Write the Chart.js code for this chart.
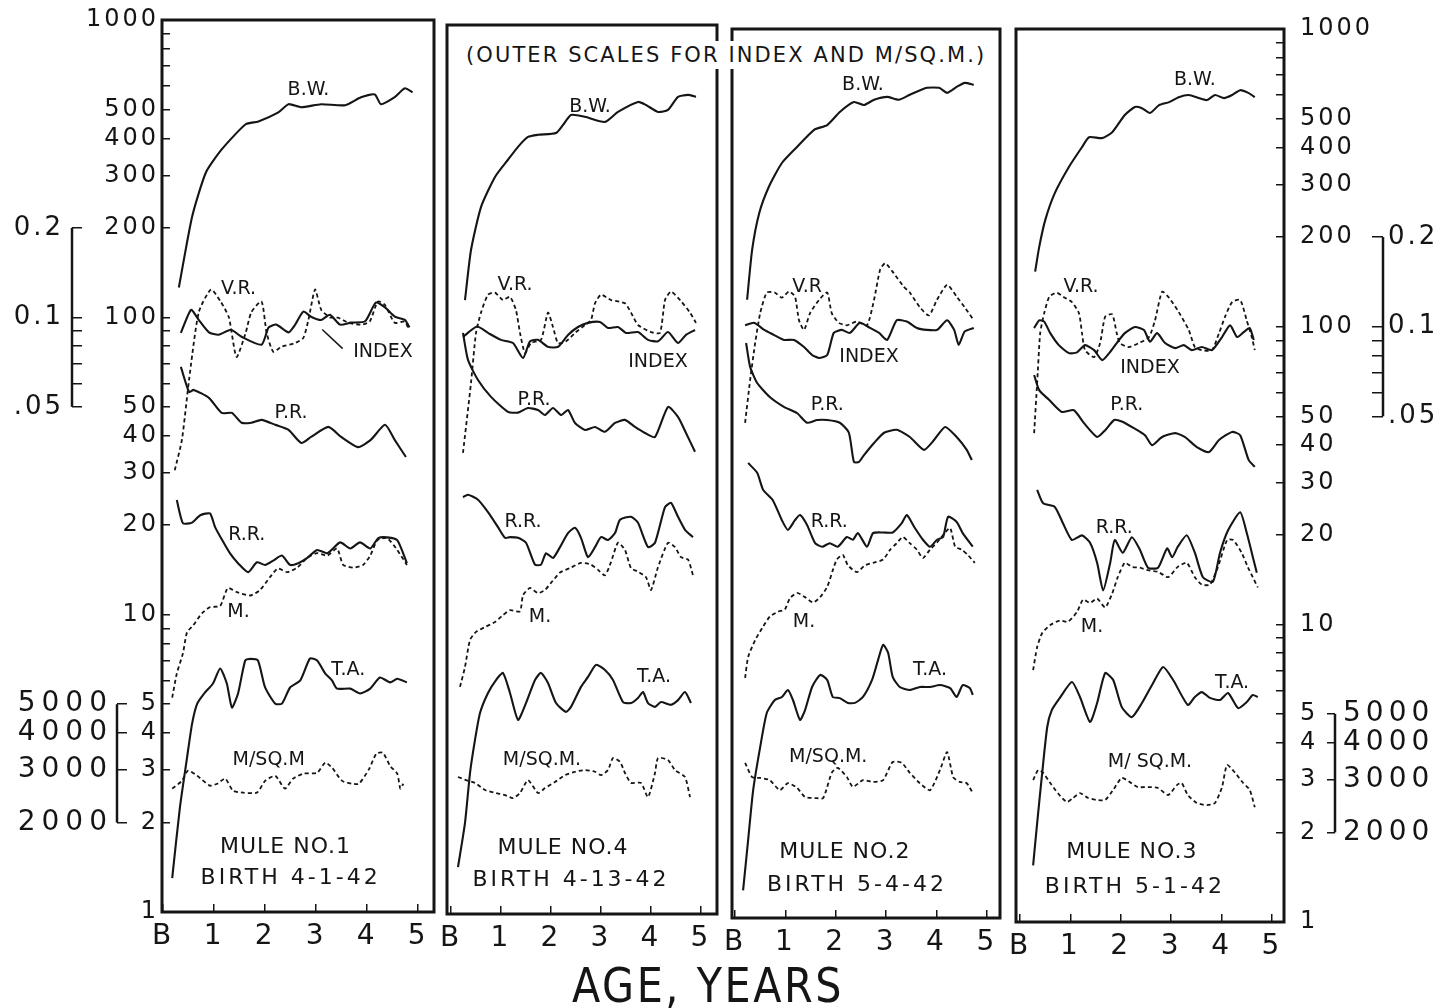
<!DOCTYPE html>
<html>
<head>
<meta charset="utf-8">
<script src="https://cdn.jsdelivr.net/npm/chart.js@4.4.1/dist/chart.umd.min.js"></script>
<style>
  body { margin: 0; background: #fff; width: 1441px; height: 1008px; overflow: hidden; position: relative; }
  canvas { position: absolute; top: 0; }
  #note { position: absolute; left: 463px; top: 41px; padding: 2px 3px; background: #fff; color: #151515;
          font: 21px "DejaVu Sans", sans-serif; letter-spacing: 2.1px; line-height: 24px; white-space: nowrap; }
  #xtitle { position: absolute; left: 572px; top: 957px; color: #151515; line-height: 48px;
            font: 48px "DejaVu Sans", sans-serif; letter-spacing: 3px; white-space: nowrap;
            transform: scaleX(0.86); transform-origin: left top; }
</style>
</head>
<body>
<canvas id="p1" width="362" height="1008" style="left:78px"></canvas>
<canvas id="p2" width="282" height="1008" style="left:440px"></canvas>
<canvas id="p3" width="284" height="1008" style="left:722px"></canvas>
<canvas id="p4" width="380" height="1008" style="left:1006px"></canvas>
<canvas id="idxL" width="84" height="1008" style="left:0px"></canvas>
<canvas id="msqL" width="130" height="1008" style="left:0px"></canvas>
<canvas id="msqR" width="121" height="1008" style="left:1320px"></canvas>
<canvas id="idxR" width="76" height="1008" style="left:1365px"></canvas>
<div id="note">(OUTER SCALES FOR INDEX AND M/SQ.M.)</div>
<div id="xtitle">AGE, YEARS</div>
<script>
// tick values and their printed labels
const MAIN_TICKS = [1000, 900, 800, 700, 600, 500, 400, 300, 200, 100, 90, 80, 70, 60, 50, 40, 30, 20, 10, 9, 8, 7, 6, 5, 4, 3, 2, 1];
const MAIN_TEXT  = ['1000', '', '', '', '', '500', '400', '300', '200', '100', '', '', '', '', '50', '40', '30', '20', '10', '', '', '', '', '5', '4', '3', '2', '1'];
const INDEX_TICKS = [0.2, 0.1, 0.09, 0.08, 0.07, 0.06, 0.05];
const INDEX_TEXT  = ['0.2', '0.1', '', '', '', '', '.05'];
const MSQ_TICKS = [5000, 4000, 3000, 2000];
const MSQ_TEXT  = ['5000', '4000', '3000', '2000'];
const AGE_TICKS = [0, 1, 2, 3, 4, 5];
const AGE_TEXT  = ['B', '1', '2', '3', '4', '5'];

// Mule No. 1  ([age in years, value])
const bw1 = [[0.31,126],[0.57,218],[0.84,307],[1.15,367],[1.62,446],[1.87,456],[2.26,489],[2.46,521],[2.71,509],[3.10,521],[3.57,517],[3.88,550],[4.15,562],[4.27,521],[4.54,550],[4.74,589],[4.89,571]];
const vr1 = [[0.23,30.6],[0.37,38.7],[0.51,61.6],[0.70,104],[0.94,124],[1.13,113],[1.29,100],[1.44,73.6],[1.62,88.7],[1.73,104],[1.93,113],[2.03,88.7],[2.16,76.6],[2.32,79.6],[2.59,82],[2.75,85.3],[2.85,98.2],[2.98,124],[3.10,106],[3.27,100],[3.43,99.7],[3.63,95.9],[3.88,94.5],[4.05,96.8],[4.21,113],[4.35,110],[4.54,95.9],[4.74,96.8],[4.80,92.5]];
const idx1 = [[0.35,0.0887],[0.55,0.106],[0.70,0.098],[0.90,0.089],[1.09,0.0874],[1.33,0.0908],[1.54,0.086],[1.93,0.0809],[2.07,0.0925],[2.22,0.0945],[2.46,0.089],[2.59,0.0945],[2.75,0.1045],[2.90,0.1005],[3.10,0.098],[3.27,0.102],[3.47,0.0945],[3.68,0.096],[3.96,0.097],[4.17,0.112],[4.35,0.108],[4.54,0.1005],[4.74,0.098],[4.83,0.0925]];
const pr1 = [[0.35,68.1],[0.51,56.1],[0.60,57],[0.90,53.6],[1.15,47.7],[1.35,47.7],[1.54,44.2],[1.73,44.2],[1.93,45.2],[2.20,43.5],[2.46,41.8],[2.71,37.8],[2.90,39.6],[3.24,42.8],[3.49,39.6],[3.82,36.6],[4.07,38.7],[4.35,43.5],[4.54,38.7],[4.76,33.9]];
const rr1 = [[0.27,24.3],[0.39,20.3],[0.57,20.4],[0.73,21.6],[0.92,21.9],[1.02,19.7],[1.16,17.8],[1.31,16.1],[1.47,14.9],[1.67,13.9],[1.84,15.0],[2.00,14.7],[2.16,15.2],[2.33,15.8],[2.49,14.7],[2.65,14.9],[2.82,15.5],[3.02,16.5],[3.22,16.1],[3.47,17.5],[3.67,16.7],[3.86,17.5],[4.06,16.7],[4.22,18.1],[4.39,18.2],[4.59,17.8],[4.78,14.9]];
const m1 = [[0.18,5.26],[0.27,6.34],[0.39,7.41],[0.47,8.72],[0.59,9.2],[0.76,10.1],[0.92,10.6],[1.12,10.7],[1.27,12.3],[1.45,11.9],[1.71,11.6],[1.90,12.1],[2.10,13.4],[2.25,14.3],[2.43,13.9],[2.63,14.4],[2.82,15.5],[3.02,16.1],[3.22,15.8],[3.41,16.7],[3.53,14.7],[3.73,14.4],[3.92,14.7],[4.06,15.8],[4.20,17.8],[4.39,18.1],[4.59,16.5],[4.78,14.7]];
const ta1 = [[0.18,1.30],[0.33,2.24],[0.47,3.30],[0.57,4.30],[0.67,5.02],[0.82,5.47],[0.98,5.87],[1.12,6.59],[1.25,5.87],[1.35,4.87],[1.47,5.43],[1.61,7.01],[1.71,7.1],[1.86,7.01],[2.00,5.69],[2.20,5.02],[2.33,5.02],[2.49,5.69],[2.69,6.01],[2.88,7.12],[3.02,7.01],[3.18,6.34],[3.31,6.01],[3.41,5.64],[3.67,5.64],[3.86,5.43],[4.06,5.64],[4.25,6.15],[4.45,5.92],[4.59,6.09],[4.78,5.92]];
const msq1 = [[0.18,2600],[0.37,2760],[0.49,2990],[0.67,2870],[0.92,2660],[1.06,2700],[1.22,2810],[1.37,2560],[1.57,2520],[1.84,2520],[2.00,2760],[2.20,2870],[2.39,2600],[2.55,2810],[2.75,2920],[3.02,2940],[3.18,3180],[3.31,3060],[3.51,2760],[3.71,2700],[3.84,2700],[4.04,3030],[4.18,3410],[4.31,3430],[4.45,3100],[4.59,2920],[4.65,2600],[4.71,2700]];

// Mule No. 4
const bw4 = [[0.28,118],[0.40,174],[0.60,243],[0.88,307],[1.14,351],[1.34,388],[1.54,419],[1.74,426],[2.10,432],[2.24,460],[2.40,497],[2.68,490],[3.08,471],[3.34,509],[3.74,550],[3.90,537],[4.14,509],[4.34,517],[4.54,572],[4.74,581],[4.90,572]];
const vr4 = [[0.24,36],[0.40,62],[0.50,91.4],[0.60,107],[0.74,123],[0.88,125],[1.04,118],[1.18,121],[1.30,109],[1.38,91.4],[1.48,78.2],[1.60,84.5],[1.80,86.6],[1.94,107],[2.04,95.7],[2.14,84.5],[2.30,85.6],[2.48,91.4],[2.68,97.2],[2.80,101],[2.88,115],[3.00,123],[3.20,118],[3.48,115],[3.60,107],[3.74,97.2],[4.00,92],[4.18,91.4],[4.28,118],[4.40,126],[4.60,117],[4.78,107],[4.90,98.8]];
const idx4 = [[0.24,0.0886],[0.52,0.096],[0.74,0.0914],[1.00,0.0866],[1.24,0.0845],[1.44,0.0752],[1.58,0.0856],[1.74,0.0866],[1.94,0.082],[2.14,0.082],[2.34,0.090],[2.54,0.0957],[2.74,0.0988],[2.98,0.0995],[3.14,0.095],[3.34,0.0957],[3.50,0.0914],[3.74,0.092],[3.94,0.0866],[4.14,0.0856],[4.34,0.092],[4.54,0.0845],[4.70,0.090],[4.88,0.0935]];
const pr4 = [[0.24,91.4],[0.34,74.1],[0.54,63.4],[0.80,55.6],[1.14,49.5],[1.34,49.2],[1.54,51],[1.74,50.2],[1.88,48.3],[2.04,51],[2.20,48.3],[2.34,50.2],[2.48,45.4],[2.68,43],[2.88,44],[3.08,42.4],[3.28,45.4],[3.48,46.5],[3.68,44],[3.88,42],[4.08,40.7],[4.34,51.4],[4.54,47.6],[4.70,42],[4.88,36.3]];
const rr4 = [[0.24,25.5],[0.34,26],[0.54,25],[0.74,22.7],[0.94,20.2],[1.08,18.6],[1.18,18.7],[1.34,18.6],[1.50,17.9],[1.68,15.1],[1.80,15.1],[1.90,16.5],[2.04,15.9],[2.18,17.3],[2.34,19.3],[2.48,20.1],[2.60,18.6],[2.74,16],[2.88,17.3],[3.00,18.7],[3.14,18.3],[3.28,19.3],[3.38,21.4],[3.60,21.9],[3.74,20.9],[3.94,17.3],[4.08,17.9],[4.28,23.6],[4.40,24.4],[4.54,21.9],[4.68,19.8],[4.84,18.7]];
const m4 = [[0.18,5.84],[0.28,6.82],[0.38,8.41],[0.50,8.95],[0.68,9.3],[0.88,9.67],[1.04,10.2],[1.18,10.6],[1.38,10.5],[1.44,11.9],[1.58,12.6],[1.74,12.1],[1.88,12.4],[2.00,13.1],[2.18,14.2],[2.38,14.7],[2.60,15.3],[2.80,15.1],[2.94,14.5],[3.08,13.9],[3.20,15.4],[3.34,17.9],[3.48,16.9],[3.60,14.7],[3.74,14.3],[3.90,13.7],[4.00,12.4],[4.14,14.8],[4.34,17.9],[4.48,17.3],[4.60,16],[4.74,15.7],[4.84,13.9]];
const ta4 = [[0.14,1.44],[0.28,2.03],[0.38,2.99],[0.48,3.87],[0.58,4.77],[0.74,5.57],[0.90,6.16],[1.04,6.51],[1.18,5.57],[1.34,4.52],[1.50,5.15],[1.68,6.16],[1.80,6.51],[1.94,6.02],[2.10,5.15],[2.30,4.81],[2.40,5.0],[2.60,5.84],[2.74,6.31],[2.90,6.93],[3.08,6.66],[3.24,6.16],[3.44,5.19],[3.60,5.15],[3.74,5.36],[3.84,5.61],[3.94,5.15],[4.08,5.0],[4.20,5.19],[4.40,5.08],[4.54,5.27],[4.68,5.61],[4.80,5.15]];
const msq4 = [[0.14,2900],[0.30,2830],[0.48,2770],[0.68,2620],[0.90,2560],[1.08,2520],[1.24,2460],[1.38,2560],[1.54,2830],[1.74,2560],[1.88,2660],[2.08,2790],[2.28,2940],[2.48,3020],[2.68,3060],[2.88,3020],[3.00,2940],[3.14,3060],[3.24,3360],[3.38,3260],[3.48,2990],[3.60,2770],[3.80,2770],[3.94,2480],[4.08,2990],[4.14,3360],[4.34,3310],[4.48,3060],[4.68,2900],[4.78,2480]];

// Mule No. 2
const bw2 = [[0.24,122],[0.34,180],[0.48,239],[0.67,293],[0.93,353],[1.23,400],[1.57,457],[1.83,474],[2.08,525],[2.36,567],[2.56,554],[2.76,577],[3.02,590],[3.25,577],[3.47,600],[3.81,633],[4.05,633],[4.21,609],[4.40,638],[4.56,658],[4.74,648]];
const vr2 = [[0.20,46.9],[0.30,65.4],[0.40,87.2],[0.50,110],[0.63,129],[0.79,129],[0.93,124],[1.07,130],[1.19,125],[1.27,104],[1.37,96.5],[1.49,110],[1.67,122],[1.83,129],[1.92,110],[2.06,102],[2.22,100],[2.42,103],[2.62,100],[2.76,122],[2.88,154],[2.98,162],[3.15,150],[3.35,135],[3.47,129],[3.67,115],[3.85,108],[4.01,122],[4.21,137],[4.40,125],[4.56,115],[4.74,104]];
const idx2 = [[0.20,0.100],[0.38,0.102],[0.58,0.0965],[0.77,0.0929],[0.97,0.0893],[1.17,0.0893],[1.37,0.0845],[1.53,0.0794],[1.67,0.0776],[1.83,0.0794],[1.96,0.0943],[2.12,0.0965],[2.28,0.0943],[2.48,0.102],[2.68,0.098],[2.86,0.0943],[3.02,0.0893],[3.21,0.104],[3.41,0.103],[3.61,0.098],[3.81,0.0965],[4.01,0.0965],[4.21,0.104],[4.35,0.0965],[4.44,0.0859],[4.56,0.0954],[4.74,0.098]];
const pr2 = [[0.22,87.2],[0.30,72.4],[0.44,63.9],[0.69,57.3],[0.97,53.1],[1.23,50.6],[1.43,46.9],[1.63,47.9],[1.83,47.9],[2.08,46.9],[2.26,43.4],[2.36,34.6],[2.46,34.6],[2.56,36.5],[2.76,40.1],[2.96,43.4],[3.21,44.4],[3.47,42],[3.75,38],[3.95,41],[4.17,45.4],[4.40,42],[4.60,38],[4.70,35.1]];
const rr2 = [[0.26,34.3],[0.44,31.8],[0.56,27.8],[0.75,25.7],[0.93,22],[1.05,20.4],[1.19,22],[1.29,22.9],[1.43,21.2],[1.59,18.4],[1.73,17.9],[1.88,18.4],[2.04,17.9],[2.22,19.3],[2.34,18.9],[2.44,19.9],[2.62,17.9],[2.74,19.9],[2.94,20],[3.13,20],[3.31,21.5],[3.41,22.9],[3.57,20.7],[3.73,18.9],[3.87,17.9],[4.01,18.9],[4.13,19.3],[4.23,22.6],[4.40,21.7],[4.52,19.9],[4.72,17.9]];
const m2 = [[0.20,6.46],[0.26,7.6],[0.40,8.67],[0.54,9.52],[0.69,10.4],[0.85,10.8],[0.99,11],[1.09,12],[1.23,12.5],[1.39,12.1],[1.55,11.6],[1.69,12.1],[1.83,13.1],[1.94,14.9],[2.02,16.2],[2.14,16.8],[2.24,15.5],[2.42,14.7],[2.58,15.5],[2.74,15.8],[2.94,16.2],[3.08,17.5],[3.21,18.4],[3.33,19.3],[3.47,18.4],[3.61,17.5],[3.73,16.4],[3.87,17.5],[4.01,18.5],[4.13,19.6],[4.27,20.7],[4.37,17.9],[4.50,17.5],[4.62,16.8],[4.76,15.8]];
const ta2 = [[0.16,1.24],[0.26,1.83],[0.36,2.70],[0.50,3.78],[0.63,4.92],[0.79,5.44],[0.93,5.57],[1.05,5.88],[1.15,5.44],[1.29,4.66],[1.39,5.03],[1.53,6.02],[1.69,6.61],[1.83,6.36],[1.94,5.57],[2.08,5.52],[2.24,5.32],[2.38,5.32],[2.54,5.57],[2.72,6.36],[2.84,7.43],[2.94,8.35],[3.04,7.84],[3.13,6.51],[3.27,6.02],[3.47,5.88],[3.67,6.02],[3.87,6.02],[4.07,6.11],[4.27,5.97],[4.40,5.57],[4.52,6.11],[4.66,5.97],[4.72,5.66]];
const msq2 = [[0.20,3340],[0.34,2990],[0.50,2970],[0.69,2920],[0.89,2700],[1.05,2850],[1.23,2750],[1.39,2560],[1.59,2540],[1.75,2540],[1.92,3090],[2.04,3210],[2.22,2990],[2.34,2770],[2.54,2920],[2.74,2880],[2.94,2920],[3.13,3360],[3.31,3340],[3.47,3090],[3.67,2850],[3.87,2700],[4.07,3160],[4.21,3630],[4.33,2990],[4.46,2880],[4.60,2850],[4.72,2640]];

// Mule No. 3
const bw3 = [[0.30,153],[0.38,185],[0.50,228],[0.69,281],[0.97,344],[1.23,401],[1.37,433],[1.63,430],[1.83,450],[2.08,514],[2.28,547],[2.42,542],[2.58,522],[2.76,555],[2.96,568],[3.15,590],[3.35,600],[3.55,586],[3.71,577],[3.87,600],[4.05,586],[4.21,600],[4.37,623],[4.54,609],[4.66,590]];
const vr3 = [[0.28,43.9],[0.34,64.7],[0.40,95.1],[0.48,111],[0.58,126],[0.73,130],[0.89,125],[1.03,121],[1.17,111],[1.23,95.1],[1.29,83.4],[1.47,79],[1.59,88.1],[1.69,108],[1.83,110],[1.92,95.1],[1.98,88.1],[2.16,85.4],[2.36,88.1],[2.56,92.3],[2.68,105],[2.82,131],[2.96,125],[3.15,112],[3.35,97.4],[3.47,85.4],[3.61,83.4],[3.81,83.4],[3.95,95.1],[4.07,108],[4.21,121],[4.37,123],[4.50,105],[4.60,92.3],[4.66,83.4]];
const idx3 = [[0.28,0.0989],[0.38,0.105],[0.48,0.104],[0.60,0.0951],[0.77,0.0867],[0.97,0.0815],[1.13,0.082],[1.29,0.0867],[1.47,0.0834],[1.63,0.0772],[1.77,0.0815],[1.92,0.0881],[2.08,0.0951],[2.28,0.0997],[2.46,0.0974],[2.58,0.089],[2.72,0.0951],[2.88,0.0881],[3.08,0.0847],[3.25,0.0867],[3.41,0.0834],[3.61,0.0854],[3.81,0.0834],[4.01,0.0923],[4.17,0.101],[4.31,0.0923],[4.44,0.0959],[4.56,0.0989],[4.64,0.0902]];
const pr3 = [[0.28,68.8],[0.38,61.2],[0.58,56.7],[0.83,51.7],[1.07,52.4],[1.27,47.4],[1.53,42.6],[1.69,44.9],[1.87,48.6],[2.02,48],[2.26,45.6],[2.48,43.2],[2.62,40],[2.82,42.6],[3.08,43.9],[3.27,42.6],[3.51,39.4],[3.75,37.9],[3.95,41.6],[4.21,44.3],[4.37,43.2],[4.54,35.6],[4.66,33.8]];
const rr3 = [[0.34,28.3],[0.46,25.5],[0.69,24.8],[0.85,21.9],[1.03,19.2],[1.23,19.9],[1.39,18.8],[1.53,16.1],[1.65,13.0],[1.79,16.1],[1.88,19.2],[2.04,17.4],[2.22,19.6],[2.38,17.8],[2.54,15.5],[2.74,15.5],[2.92,18.0],[3.02,16.8],[3.13,18.2],[3.31,19.9],[3.47,17.4],[3.63,14.4],[3.83,13.9],[3.97,17.4],[4.13,20.7],[4.37,23.8],[4.50,20.3],[4.60,17.4],[4.70,14.9]];
const m3 = [[0.26,7.02],[0.34,8.39],[0.44,9.35],[0.60,9.95],[0.79,10.3],[0.95,10.2],[1.13,11],[1.25,12.1],[1.39,11.8],[1.53,12.2],[1.69,11.4],[1.83,12.7],[1.94,14.4],[2.08,16.1],[2.22,15.6],[2.38,15.5],[2.54,15.2],[2.74,15],[2.94,14.4],[3.13,15.6],[3.31,16.1],[3.47,14.4],[3.61,13.6],[3.77,13.6],[3.93,15.6],[4.11,19.2],[4.23,19.2],[4.40,17.4],[4.52,15.6],[4.62,14.4],[4.72,13.3]];
const ta3 = [[0.26,1.55],[0.34,2.15],[0.44,3.17],[0.54,4.52],[0.63,5.15],[0.79,5.66],[1.03,6.40],[1.19,5.70],[1.39,4.70],[1.53,5.44],[1.69,6.86],[1.85,6.50],[2.02,5.27],[2.22,4.88],[2.42,5.44],[2.62,6.25],[2.84,7.19],[3.04,6.50],[3.33,5.36],[3.47,5.70],[3.61,5.92],[3.77,5.66],[3.97,5.57],[4.13,5.88],[4.33,5.23],[4.50,5.48],[4.62,5.79],[4.72,5.70]];
const msq3 = [[0.26,3000],[0.36,3240],[0.46,3170],[0.60,2930],[0.75,2710],[0.93,2530],[1.05,2610],[1.19,2710],[1.35,2610],[1.53,2570],[1.69,2570],[1.85,2780],[2.02,3050],[2.18,2950],[2.34,2840],[2.54,2840],[2.74,2820],[2.94,2670],[3.12,2890],[3.21,2930],[3.33,2670],[3.51,2510],[3.71,2470],[3.87,2510],[4.01,2840],[4.11,3370],[4.27,3170],[4.43,2930],[4.56,2780],[4.66,2430]];

const INK = '#151515';
const ROUND = '"DejaVu Sans", sans-serif';

// per panel: layout, age range, curves, curve labels ([text, age, value])
const panels = [
  { id: 'p1', pad: {left: 0, right: 6, top: 20, bottom: 51}, xMin: -0.02, xMax: 5.31, side: 'left',
    curves: {bw: bw1, vr: vr1, idx: idx1, pr: pr1, rr: rr1, m: m1, ta: ta1, msq: msq1},
    labels: [['B.W.', 2.85, 582], ['V.R.', 1.48, 124], ['INDEX', 4.31, 76.5], ['P.R.', 2.51, 47.7],
             ['R.R.', 1.64, 18.5], ['M.', 1.48, 10.2], ['T.A.', 3.63, 6.5], ['M/SQ.M', 2.07, 3.25]],
    mule: [['MULE NO.1', 2.40, 1.65], ['BIRTH 4-1-42', 2.50, 1.30]],
    leaders: [[3.52, 78.5, 3.12, 91]] },
  { id: 'p2', pad: {left: 7, right: 5, top: 25, bottom: 49}, xMin: -0.08, xMax: 5.32, side: null,
    curves: {bw: bw4, vr: vr4, idx: idx4, pr: pr4, rr: rr4, m: m4, ta: ta4, msq: msq4},
    labels: [['B.W.', 2.78, 529], ['V.R.', 1.28, 133], ['INDEX', 4.14, 72.9], ['P.R.', 1.66, 54.3],
             ['R.R.', 1.44, 21.0], ['M.', 1.78, 10.05], ['T.A.', 4.06, 6.31], ['M/SQ.M.', 1.82, 3.31]],
    mule: [['MULE NO.4', 2.24, 1.67], ['BIRTH 4-13-42', 2.40, 1.30]], leaders: [] },
  { id: 'p3', pad: {left: 10, right: 6, top: 29, bottom: 45}, xMin: -0.06, xMax: 5.26, side: null,
    curves: {bw: bw2, vr: vr2, idx: idx2, pr: pr2, rr: rr2, m: m2, ta: ta2, msq: msq2},
    labels: [['B.W.', 2.54, 648], ['V.R', 1.43, 135], ['INDEX', 2.66, 78.2], ['P.R.', 1.83, 53.9],
             ['R.R.', 1.87, 21.7], ['M.', 1.37, 9.98], ['T.A.', 3.87, 6.87], ['M/SQ.M.', 1.85, 3.49]],
    mule: [['MULE NO.2', 2.18, 1.67], ['BIRTH 5-4-42', 2.42, 1.29]], leaders: [] },
  { id: 'p4', pad: {left: 10, right: 0, top: 29, bottom: 41}, xMin: -0.08, xMax: 5.24, side: 'right',
    curves: {bw: bw3, vr: vr3, idx: idx3, pr: pr3, rr: rr3, m: m3, ta: ta3, msq: msq3},
    labels: [['B.W.', 3.47, 673], ['V.R.', 1.21, 136], ['INDEX', 2.58, 72.6], ['P.R.', 2.12, 54.5],
             ['R.R.', 1.87, 21.1], ['M.', 1.43, 9.8], ['T.A.', 4.21, 6.35], ['M/ SQ.M.', 2.58, 3.45]],
    mule: [['MULE NO.3', 2.22, 1.71], ['BIRTH 5-1-42', 2.28, 1.31]], leaders: [] }
];

// the outer bracket scales, each on its own transparent canvas over the page edge
const outer = [
  { id: 'idxL', side: 'left', top: 20, bottom: 96, width: 82, min: 0.001, max: 1, ticks: INDEX_TICKS, text: INDEX_TEXT, tick: 10, pad: 8, size: 26, gap: 3 },
  { id: 'msqL', side: 'left', top: 20, bottom: 96, width: 127, min: 1000, max: 1e6, ticks: MSQ_TICKS, text: MSQ_TEXT, tick: 10, pad: 4, size: 28, gap: 6 },
  { id: 'msqR', side: 'right', top: 29, bottom: 86, width: 114, min: 1000, max: 1e6, ticks: MSQ_TICKS, text: MSQ_TEXT, tick: 8, pad: 8, size: 28, gap: 5 },
  { id: 'idxR', side: 'right', top: 29, bottom: 86, width: 69, min: 0.001, max: 1, ticks: INDEX_TICKS, text: INDEX_TEXT, tick: 11, pad: 5, size: 26, gap: 3 }
];

// which curves are dashed and which scale they sit on
const CURVE_STYLE = {
  bw: {axis: 'y', dash: false}, vr: {axis: 'y', dash: true}, idx: {axis: 'yIdx', dash: false},
  pr: {axis: 'y', dash: false}, rr: {axis: 'y', dash: false}, m: {axis: 'y', dash: true},
  ta: {axis: 'y', dash: false}, msq: {axis: 'yMsq', dash: true}
};

function makeLine(points, style) {
  return {
    data: points.map(p => ({x: p[0], y: p[1]})),
    yAxisID: style.axis,
    borderColor: INK,
    borderWidth: style.dash ? 1.8 : 2.1,
    borderDash: style.dash ? [4, 3] : [],
    pointRadius: 0,
    tension: 0.2,
    fill: false
  };
}

function logAxis(o) {
  const axis = {
    type: 'logarithmic', display: o.show, position: o.side || 'left',
    min: o.min, max: o.max,
    afterBuildTicks: ax => { ax.ticks = o.ticks.map(v => ({value: v})); },
    ticks: {
      autoSkip: false, padding: o.pad || 0, color: INK,
      font: {family: ROUND, size: o.size || 24},
      callback: v => o.text[o.ticks.indexOf(v)] || ''
    },
    grid: {drawOnChartArea: false, tickLength: o.tick || 0, color: INK, lineWidth: 1.5},
    border: {display: false}
  };
  if (o.show) axis.afterFit = ax => { ax.width = o.width; ax.paddingTop = 0; ax.paddingBottom = 0; };
  return axis;
}

const hiddenX = {type: 'linear', display: false, min: 0, max: 5};

// wider letter spacing for the axis numbers only
const spacing = {
  id: 'spacing',
  beforeDraw(chart) {
    const o = outer.find(q => q.id === chart.canvas.id);
    chart.ctx.letterSpacing = (o ? o.gap : 3) + 'px';
  },
  beforeDatasetsDraw(chart) { chart.ctx.letterSpacing = '0px'; }
};

const bracket = {
  id: 'bracket',
  afterDraw(chart) {
    const o = outer.find(q => q.id === chart.canvas.id);
    const s = chart.scales.y;
    const x = o.side === 'left' ? s.right - o.tick : s.left + o.tick;
    const ctx = chart.ctx;
    ctx.save();
    ctx.strokeStyle = INK;
    ctx.lineWidth = 2.5;
    ctx.beginPath();
    ctx.moveTo(x, s.getPixelForValue(o.ticks[0]));
    ctx.lineTo(x, s.getPixelForValue(o.ticks[o.ticks.length - 1]));
    ctx.stroke();
    ctx.restore();
  }
};

// boxes and curve names
const deco = {
  id: 'deco',
  afterDatasetsDraw(chart) {
    const p = panels.find(q => q.id === chart.canvas.id);
    const {ctx, chartArea: a, scales} = chart;
    const sx = scales.x, sy = scales.y;
    ctx.save();
    ctx.strokeStyle = INK;
    ctx.lineWidth = 3;
    ctx.strokeRect(a.left, a.top, a.right - a.left, a.bottom - a.top);

    ctx.lineWidth = 1.5;
    p.leaders.forEach(([a1, v1, a2, v2]) => {
      ctx.beginPath();
      ctx.moveTo(sx.getPixelForValue(a1), sy.getPixelForValue(v1));
      ctx.lineTo(sx.getPixelForValue(a2), sy.getPixelForValue(v2));
      ctx.stroke();
    });

    ctx.fillStyle = INK;
    ctx.textAlign = 'center';
    ctx.textBaseline = 'middle';
    ctx.font = '19px ' + ROUND;
    ctx.letterSpacing = '0px';
    p.labels.forEach(([t, age, v]) => {
      ctx.fillText(t, sx.getPixelForValue(age), sy.getPixelForValue(v));
    });
    ctx.font = '22px ' + ROUND;
    p.mule.forEach(([t, age, v], i) => {
      ctx.letterSpacing = i === 0 ? '1px' : '3px';
      ctx.fillText(t, sx.getPixelForValue(age), sy.getPixelForValue(v));
    });
    ctx.restore();
  }
};

const baseOptions = {
  responsive: false,
  animation: false,
  devicePixelRatio: 1,
  events: [],
  plugins: {legend: {display: false}, tooltip: {enabled: false}}
};

panels.forEach(p => {
  const shown = p.side !== null;
  new Chart(document.getElementById(p.id), {
    type: 'line',
    data: {
      datasets: Object.keys(CURVE_STYLE).map(k => makeLine(p.curves[k], CURVE_STYLE[k]))
    },
    options: Object.assign({}, baseOptions, {
      layout: {padding: p.pad},
      scales: {
        x: {
          type: 'linear', position: 'bottom', min: p.xMin, max: p.xMax,
          afterBuildTicks: ax => { ax.ticks = AGE_TICKS.map(v => ({value: v})); },
          afterFit: ax => { ax.height = 45; ax.paddingLeft = 0; ax.paddingRight = 0; },
          ticks: {
            autoSkip: false, maxRotation: 0, padding: 16, color: INK,
            font: {family: ROUND, size: 28},
            callback: v => AGE_TEXT[AGE_TICKS.indexOf(v)] || ''
          },
          grid: {drawOnChartArea: false, tickLength: -8, color: INK, lineWidth: 1.5},
          border: {display: false}
        },
        y: logAxis({show: shown, side: p.side || 'left', min: 1, max: 1000,
                    ticks: MAIN_TICKS, text: MAIN_TEXT, tick: -8, pad: p.side === 'right' ? 24 : 11,
                    width: p.side === 'right' ? 102 : 84, size: 24}),
        yMsq: logAxis({show: false, min: 1000, max: 1e6, ticks: MSQ_TICKS, text: MSQ_TEXT}),
        yIdx: logAxis({show: false, min: 0.001, max: 1, ticks: INDEX_TICKS, text: INDEX_TEXT})
      }
    }),
    plugins: [spacing, deco]
  });
});

outer.forEach(o => {
  new Chart(document.getElementById(o.id), {
    type: 'line',
    data: {datasets: []},
    options: Object.assign({}, baseOptions, {
      layout: {padding: {left: 0, right: 0, top: o.top, bottom: o.bottom}},
      scales: {
        x: hiddenX,
        y: logAxis({show: true, side: o.side, min: o.min, max: o.max, ticks: o.ticks, text: o.text,
                    tick: o.tick, pad: o.pad, width: o.width, size: o.size})
      }
    }),
    plugins: [spacing, bracket]
  });
});
</script>
</body>
</html>
